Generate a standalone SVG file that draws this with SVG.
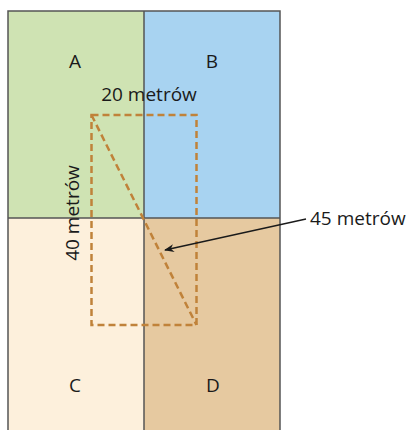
<svg xmlns="http://www.w3.org/2000/svg" width="409" height="430" viewBox="0 0 409 430">
<style>
.lbl{font-family:"Open Sans","Liberation Sans",sans-serif;font-size:19px;fill:#1a1a1a}
.dash{fill:none;stroke:#c0823a;stroke-width:2.5;stroke-dasharray:7,4}
.div{stroke:#555;stroke-width:1.5;fill:none}
</style>
<defs>
<marker id="ah" markerWidth="10" markerHeight="8" refX="9" refY="4" orient="auto" markerUnits="userSpaceOnUse">
<path d="M0,0 L10,4 L0,8 L3,4 Z" fill="#1a1a1a"/>
</marker>
</defs>
<g id="A"><rect x="8" y="11" width="136" height="207" fill="#cfe3b3"/><text class="lbl" x="75" y="68" text-anchor="middle">A</text></g>
<g id="B"><rect x="144" y="11" width="136" height="207" fill="#a8d3f1"/><text class="lbl" x="212" y="68" text-anchor="middle">B</text></g>
<g id="C"><rect x="8" y="218" width="136" height="215" fill="#fdf0dc"/><text class="lbl" x="75" y="392" text-anchor="middle">C</text></g>
<g id="D"><rect x="144" y="218" width="136" height="215" fill="#e6c9a0"/><text class="lbl" x="213" y="392" text-anchor="middle">D</text></g>
<g id="grid">
<rect class="div" x="8" y="11" width="272" height="430"/>
<line class="div" x1="144" y1="11" x2="144" y2="430"/>
<line class="div" x1="8" y1="218" x2="280" y2="218"/>
</g>
<g id="figure">
<rect class="dash" x="91.5" y="115" width="105" height="210"/>
<line class="dash" x1="91.5" y1="115" x2="196.5" y2="325"/>
<text class="lbl" x="149" y="101" text-anchor="middle">20 metrów</text>
<text class="lbl" transform="translate(79,213) rotate(-90)" text-anchor="middle">40 metrów</text>
</g>
<g id="connectors">
<line x1="306" y1="219" x2="165" y2="250" stroke="#1a1a1a" stroke-width="1.3" marker-end="url(#ah)"/>
</g>
<g id="label45"><text class="lbl" x="310" y="225">45 metrów</text></g>
</svg>
